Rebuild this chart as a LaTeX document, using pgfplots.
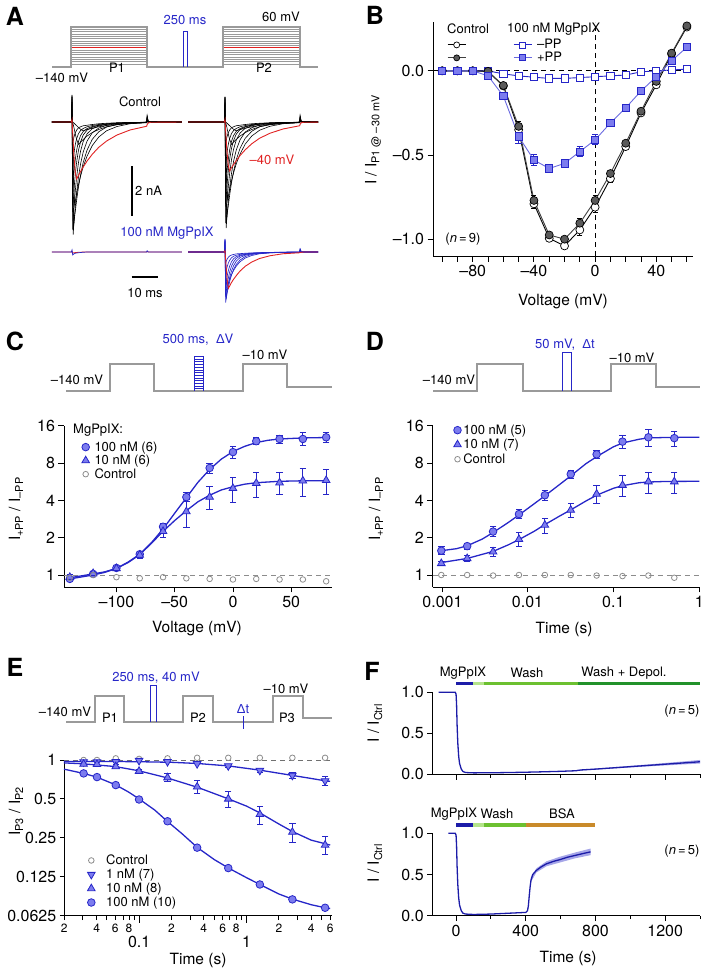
\documentclass[border=0pt]{standalone}
\usepackage{pgfplots}
\pgfplotsset{compat=1.18}
\usepackage{pgfplotstable}
\usepackage{fontspec}
\setmainfont{TeX Gyre Heros}
\newfontfamily\lib{Liberation Sans}

\definecolor{pblue}{HTML}{2626C8}
\definecolor{pfill}{HTML}{7C7CEE}
\definecolor{pgray}{HTML}{8C8C8C}
\definecolor{protogray}{HTML}{9A9A9A}
\definecolor{tred}{HTML}{E02222}
\definecolor{fnavy}{HTML}{1C1CA8}
\definecolor{fband}{HTML}{A6A6E8}
\definecolor{lgreen}{HTML}{B4E48A}
\definecolor{mgreen}{HTML}{6CC030}
\definecolor{dgreen}{HTML}{22922A}
\definecolor{bsa}{HTML}{C98A2A}
\definecolor{ppline}{HTML}{6A6AE0}
\definecolor{cfill}{HTML}{5A5A5A}

\newcommand{\fAnn}{\fontsize{13}{14}\selectfont}
\newcommand{\fTick}{\fontsize{16}{17}\selectfont}
\newcommand{\fLab}{\fontsize{15.5}{17}\selectfont}
\newcommand{\fPan}{\fontsize{25}{26}\selectfont\bfseries}
\newcommand{\fSm}{\fontsize{12}{12}\selectfont}

\pgfplotsset{
 hid/.style={scale only axis, hide axis, anchor=north west},
 pan/.style={scale only axis, anchor=north west, axis x line*=bottom, axis y line*=left,
   axis line style={line width=0.9pt, -}, tick style={line width=0.9pt, black},
   tick align=outside, major tick length=5.5pt, minor tick length=3.5pt,
   tick label style={font=\fTick}, /pgf/number format/assume math mode=true, clip=false,
   legend cell align=left},
 logx/.style={x coord trafo/.code={\pgfmathparse{ln(##1)/2.302585}}, x coord inv trafo/.code={\pgfmathparse{exp(##1*2.302585)}}},
 logy/.style={y coord trafo/.code={\pgfmathparse{ln(##1)/0.693147}}, y coord inv trafo/.code={\pgfmathparse{exp(##1*0.693147)}}},
 dmark/.style={mark=*, mark size=3.8pt, mark options={fill=pfill, draw=pblue, line width=0.8pt, solid}},
 tmark/.style={mark=triangle*, mark size=4.4pt, mark options={fill=pfill, draw=pblue, line width=0.8pt, solid}},
 vmark/.style={mark=triangle*, mark size=4.4pt, mark options={fill=pfill, draw=pblue, line width=0.8pt, solid, rotate=180}},
 cmark/.style={mark=o, mark size=2.8pt, mark options={draw=pgray, line width=0.8pt, solid}},
 ebar/.style={error bars/y dir=both, error bars/y explicit, error bars/error bar style={line width=1pt, pblue}, error bars/error mark options={rotate=90, mark size=3.2pt, line width=1pt, pblue}},
 kbar/.style={error bars/y dir=both, error bars/y explicit, error bars/error bar style={line width=0.8pt, black}, error bars/error mark options={rotate=90, mark size=2.5pt, line width=0.8pt, black}},
 eb/.style={pblue, line width=1pt, mark=-, mark size=3.2pt, mark options={solid, line width=1pt}, forget plot},
 fitl/.style={pblue, line width=1.3pt, forget plot},
}

% Panel A traces (t in ms, current in nA)
\pgfplotstableread{
t a b c d e f g h i j r rr c2 d2 e2 f2 g2 bf be bd bg bh bi bj bred bl rl
-6.5 0 0 0 0 0 0 0 0 0 0 0 0 0 0 0 0 0 0 0 0 0 0 0 0 0 0 0
0 0 0 0 0 0 0 0 0 0 0 0 0 0 0 0 0 0 0 0 0 0 0 0 0 0 0 0
7.45 0 0 0 0 0 0 0 0 0 0 0 0 0 0 0 0 0 0 0 0 0 0 0 0 0 0 0
7.7 0.15 0.3 0.5 0.8 1.05 1.0 1.08 1.0 0.9 0.8 0.1 0.1 0.5 0.75 1.0 0.95 1.0 0.47 0.44 0.28 0.52 0.5 0.45 0.4 0.05 0.08 0.03
7.95 0 0 -0.5 -1.2 -2.5 -4.3 -3.6 -2.8 -1.8 -0.9 -0.4 -0.34 -0.47 -1.13 -2.35 -4.04 -3.38 -2.02 -1.05 -0.42 -1.8 -1.4 -0.9 -0.45 -0.3 -0.12 -0.05
8.15 -0.02 -0.1 -1.5 -3.0 -4.5 -3.93 -3.22 -2.46 -1.55 -0.76 -0.8 -0.69 -1.41 -2.82 -4.24 -3.69 -3.03 -1.85 -1.89 -1.05 -1.61 -1.23 -0.78 -0.38 -0.6 -0.1 -0.04
8.4 -0.04 -0.2 -2.6 -4.1 -4.09 -3.51 -2.82 -2.09 -1.30 -0.62 -1.3 -1.12 -2.44 -3.85 -3.85 -3.30 -2.65 -1.65 -1.72 -1.44 -1.41 -1.05 -0.65 -0.31 -0.95 -0.08 -0.03
8.7 -0.07 -0.35 -3.3 -3.78 -3.69 -3.08 -2.40 -1.74 -1.06 -0.51 -1.7 -1.46 -3.10 -3.55 -3.47 -2.90 -2.26 -1.45 -1.55 -1.32 -1.2 -0.87 -0.53 -0.26 -1.25 -0.06 -0.03
9.0 -0.1 -0.5 -3.14 -3.54 -3.35 -2.71 -2.05 -1.47 -0.88 -0.42 -2.05 -1.76 -2.95 -3.33 -3.15 -2.55 -1.93 -1.27 -1.41 -1.24 -1.03 -0.74 -0.44 -0.21 -1.45 -0.05 -0.02
9.5 -0.15 -0.7 -2.86 -3.11 -2.80 -2.18 -1.59 -1.11 -0.66 -0.32 -2.28 -1.96 -2.69 -2.92 -2.63 -2.05 -1.49 -1.02 -1.18 -1.09 -0.8 -0.56 -0.33 -0.16 -1.36 -0.04 -0.02
10.2 -0.22 -0.9 -2.50 -2.59 -2.19 -1.61 -1.12 -0.77 -0.46 -0.23 -2.13 -1.83 -2.35 -2.43 -2.06 -1.51 -1.05 -0.76 -0.92 -0.91 -0.56 -0.39 -0.23 -0.12 -1.22 -0.03 -0.01
11 -0.29 -0.80 -2.16 -2.11 -1.67 -1.16 -0.79 -0.54 -0.34 -0.19 -1.98 -1.70 -2.03 -1.98 -1.57 -1.09 -0.74 -0.55 -0.70 -0.74 -0.4 -0.27 -0.17 -0.1 -1.09 -0.02 -0.01
12 -0.35 -0.70 -1.79 -1.62 -1.20 -0.78 -0.52 -0.38 -0.26 -0.15 -1.8 -1.55 -1.68 -1.52 -1.13 -0.73 -0.49 -0.37 -0.50 -0.57 -0.26 -0.19 -0.13 -0.075 -0.95 -0.01 0
13.5 -0.30 -0.56 -1.36 -1.12 -0.76 -0.47 -0.32 -0.26 -0.19 -0.13 -1.56 -1.34 -1.28 -1.05 -0.71 -0.44 -0.30 -0.22 -0.32 -0.39 -0.16 -0.13 -0.095 -0.065 -0.76 0 0
15.5 -0.25 -0.42 -0.94 -0.69 -0.43 -0.27 -0.21 -0.18 -0.14 -0.10 -1.29 -1.11 -0.88 -0.65 -0.40 -0.25 -0.20 -0.13 -0.18 -0.24 -0.1 -0.09 -0.07 -0.05 -0.57 0 0
18 -0.19 -0.30 -0.60 -0.39 -0.24 -0.16 -0.13 -0.13 -0.10 -0.07 -1.01 -0.87 -0.56 -0.37 -0.23 -0.15 -0.12 -0.075 -0.10 -0.14 -0.065 -0.065 -0.05 -0.035 -0.40 0 0
21 -0.14 -0.19 -0.35 -0.20 -0.13 -0.09 -0.09 -0.09 -0.07 -0.05 -0.76 -0.65 -0.33 -0.19 -0.12 -0.08 -0.08 -0.04 -0.055 -0.07 -0.045 -0.045 -0.035 -0.025 -0.26 0 0
25 -0.095 -0.11 -0.18 -0.10 -0.07 -0.05 -0.05 -0.05 -0.04 -0.03 -0.52 -0.45 -0.17 -0.09 -0.07 -0.05 -0.05 -0.02 -0.03 -0.035 -0.025 -0.025 -0.02 -0.015 -0.15 0 0
30 -0.058 -0.05 -0.07 -0.04 -0.04 -0.03 -0.03 -0.03 -0.02 -0.015 -0.32 -0.28 -0.07 -0.04 -0.04 -0.03 -0.03 -0.015 -0.017 -0.014 -0.015 -0.015 -0.01 -0.008 -0.07 0 0
36.4 -0.03 -0.02 -0.02 -0.02 -0.02 -0.01 -0.01 -0.01 -0.01 -0.01 -0.17 -0.15 -0.02 -0.02 -0.02 -0.01 -0.01 -0.005 -0.008 -0.007 -0.005 -0.005 -0.005 -0.005 -0.03 0 0
36.6 0.02 0.05 0.08 0.1 0.12 0.15 0.18 0.2 0.22 0.25 -0.1 -0.09 0.08 0.1 0.12 0.15 0.18 0.07 0.05 0.035 0.09 0.1 0.11 0.12 -0.02 0.05 0.02
37 -0.005 0 0 0 0 0 0.02 0.02 0.02 0.03 -0.04 -0.03 0 0 0 0 0.02 0 0 0 0.01 0.01 0.01 0.015 -0.01 0 0
38 0 0 0 0 0 0 0 0 0 0 -0.01 -0.01 0 0 0 0 0 0 0 0 0 0 0 0 0 0 0
50 0 0 0 0 0 0 0 0 0 0 0 0 0 0 0 0 0 0 0 0 0 0 0 0 0 0 0
}\Atab

% Panel B
\pgfplotstableread{
x co coe cf cfe mp pp ppe
-100 0 0 0 0 0 0 0
-90 0 0 0 0 0 0 0
-80 0 0 0 0 0 0 0
-70 -0.005 0 -0.003 0 0 -0.03 0.01
-60 -0.09 0.01 -0.087 0.01 -0.018 -0.15 0.015
-50 -0.35 0.03 -0.33 0.03 -0.03 -0.39 0.04
-40 -0.79 0.03 -0.77 0.03 -0.038 -0.53 0.035
-30 -0.995 0.015 -0.975 0.015 -0.045 -0.58 0.02
-20 -1.04 0.015 -1.0 0.015 -0.045 -0.55 0.02
-10 -0.945 0.03 -0.905 0.03 -0.04 -0.48 0.03
0 -0.81 0.03 -0.77 0.03 -0.035 -0.41 0.03
10 -0.64 0.02 -0.61 0.02 -0.03 -0.31 0.02
20 -0.45 0.015 -0.43 0.015 -0.025 -0.22 0.015
30 -0.25 0.01 -0.24 0.01 -0.006 -0.12 0.01
40 -0.083 0.01 -0.063 0.01 0 -0.035 0.01
50 0.1 0.01 0.105 0.01 0.005 0.06 0.01
60 0.26 0.01 0.267 0.01 0.01 0.14 0.01
}\Btab

% Panel C
\pgfplotstableread{
x h he l le c
-140 0.93 0.04 0.96 0.04 0.95
-120 1.02 0.03 1.03 0.04 1.0
-100 1.14 0.04 1.13 0.05 0.96
-80 1.47 0.08 1.45 0.08 0.94
-60 2.45 0.15 2.25 0.25 0.96
-40 4.25 0.35 3.25 0.85 0.94
-20 7.3 0.7 4.25 0.9 0.93
0 9.8 1.05 5.0 1.15 0.92
20 12.0 0.8 5.5 1.25 0.93
40 12.5 0.9 5.55 1.1 0.92
60 12.5 1.5 5.75 1.45 0.92
80 12.9 1.1 5.8 1.3 0.89
}\Ctab

% Panel D
\pgfplotstableread{
x h l c
0.001 1.57 1.24 1.0
0.002 1.71 1.36 1.0
0.004 2.24 1.54 0.99
0.008 3.1 1.94 1.0
0.016 4.4 2.53 1.0
0.032 6.5 3.34 1.0
0.064 9.4 4.5 0.99
0.128 11.9 5.3 0.98
0.256 12.9 5.66 0.99
0.512 12.7 5.66 0.95
}\Dtab

% Panel E
\pgfplotstableread{
x h l o c
0.0305 0.788 0.93 0.965 1.0
0.0406 0.738 0.925 0.965 1.0
0.0607 0.64 0.89 0.97 1.03
0.1 0.495 0.82 0.99 1.02
0.184 0.336 0.73 0.97 1.03
0.347 0.21 0.62 0.935 1.04
0.676 0.146 0.50 0.9 1.04
1.33 0.109 0.38 0.83 1.04
2.67 0.0836 0.277 0.76 1.04
5.38 0.072 0.22 0.69 1.04
}\Etab

\begin{document}
\begin{tikzpicture}[x=1pt,y=-1pt]
\path[use as bounding box] (0,0) rectangle (709,972);

% ---------- canvas for voltage protocols ----------
\begin{axis}[hid, clip=false, at={(0pt,0pt)}, width=709pt, height=972pt,
  xmin=0, xmax=709, ymin=0, ymax=972, y dir=reverse]
% A
\pgfplotsinvokeforeach{29.3,31.6,33.9,36.2,38.5,40.8,43.1,45.4,50,52.3,54.6,56.9,59.2,61.5,63.8}{
  \addplot[protogray, line width=0.55pt] coordinates {(71,#1) (147,#1)};
  \addplot[protogray, line width=0.55pt] coordinates {(223,#1) (300,#1)};
}
\addplot[tred, line width=0.9pt] coordinates {(71,47.7) (147,47.7)};
\addplot[tred, line width=0.9pt] coordinates {(223,47.7) (300,47.7)};
\addplot[protogray, line width=1.1pt] coordinates {(52,67) (71,67) (71,27) (147,27) (147,67) (223,67) (223,27) (300,27) (300,67) (318,67)};
\addplot[pblue, line width=1pt] coordinates {(183,67) (183,31) (187,31) (187,67)};
% C
\addplot[protogray, line width=1.2pt] coordinates {(66,391) (110,391) (110,364) (154,364) (154,391) (243,391) (243,364) (287,364) (287,387) (332,387)};
\pgfplotsinvokeforeach{359,361.7,364.4,367.1,369.8,372.5,375.2,377.9,380.6,383.3,386,388.7}{
  \addplot[pblue, line width=0.6pt] coordinates {(194,#1) (203,#1)};
}
\addplot[pblue, line width=0.9pt] coordinates {(194,391) (194,356) (203,356) (203,391)};
% D
\addplot[protogray, line width=1.2pt] coordinates {(433,391) (477,391) (477,364) (523,364) (523,391) (611,391) (611,364) (656,364) (656,387) (700,387)};
\addplot[pblue, line width=1pt] coordinates {(562,391) (562,352) (571,352) (571,391)};
% E
\addplot[protogray, line width=1.2pt] coordinates {(66,722) (95,722) (95,696) (124,696) (124,722) (183,722) (183,696) (213,696) (213,722) (273,722) (273,696) (303,696) (303,718) (332,718)};
\addplot[pblue, line width=1pt] coordinates {(150.7,722) (150.7,685) (156.7,685) (156.7,722)};
\addplot[pblue, line width=1pt] coordinates {(243,716) (243,729)};
\end{axis}

% ---------- Panel A traces ----------
\begin{axis}[hid, at={(52pt,-92pt)}, width=130pt, height=150pt, xmin=0, xmax=50, ymin=-4.8, ymax=1.2]
\pgfplotsinvokeforeach{a,b,c,d,e,f,g,h,i,j}{\addplot[black, line width=0.6pt] table[x=t,y=#1]{\Atab};}
\addplot[tred, line width=0.9pt] table[x=t,y=r]{\Atab};
\addplot[black, line width=1.8pt] coordinates {(30.65,-1.76) (30.65,-3.76)};
\end{axis}
\begin{axis}[hid, at={(188pt,-92pt)}, width=130pt, height=150pt, xmin=-6.53, xmax=43.47, ymin=-4.8, ymax=1.2]
\pgfplotsinvokeforeach{a,b,c2,d2,e2,f2,g2,h,i,j}{\addplot[black, line width=0.6pt] table[x=t,y=#1]{\Atab};}
\addplot[tred, line width=0.9pt] table[x=t,y=rr]{\Atab};
\end{axis}
\begin{axis}[hid, at={(52pt,-227pt)}, width=130pt, height=100pt, xmin=0, xmax=50, ymin=-3, ymax=1]
\addplot[tred, line width=0.8pt] table[x=t,y=rl]{\Atab};
\addplot[pblue, line width=0.7pt] table[x=t,y=bl]{\Atab};
\addplot[black, line width=1.8pt] coordinates {(30.65,-0.99) (40.65,-0.99)};
\end{axis}
\begin{axis}[hid, at={(188pt,-227pt)}, width=130pt, height=100pt, xmin=-6.53, xmax=43.47, ymin=-3, ymax=1]
\pgfplotsinvokeforeach{bf,be,bd,bg,bh,bi,bj}{\addplot[pblue, line width=0.65pt] table[x=t,y=#1]{\Atab};}
\addplot[tred, line width=0.9pt] table[x=t,y=bred]{\Atab};
\end{axis}

% ---------- Panel B ----------
\begin{axis}[pan, at={(433pt,-22pt)}, width=260pt, height=234pt,
  xmin=-106, xmax=64, ymin=-1.1, ymax=0.29,
  xtick={-100,-90,...,60}, xticklabels={,,--80,,,,--40,,,,0,,,,40,,},
  ytick={-1,-0.5,0}, yticklabels={--1.0,--0.5,0.0},
  legend columns=2,
  legend style={draw=none, fill=none, font=\fAnn, at={(axis description cs:0.054,0.935)}, anchor=north west,
     inner sep=0pt, row sep=-2pt, /tikz/every even column/.append style={column sep=40pt},
     /tikz/every odd column/.append style={column sep=3pt}},
  legend image code/.code={\draw[mark repeat=2,mark phase=2,#1,mark size=3pt] plot coordinates {(0pt,0pt) (9pt,0pt) (18pt,0pt)};},
]
\addplot[black, dash pattern=on 5pt off 4pt, line width=0.8pt, forget plot] coordinates {(-106,0) (64,0)};
\addplot[black, dash pattern=on 5pt off 4pt, line width=0.8pt, forget plot] coordinates {(0,-1.1) (0,0.29)};
\addplot[black, line width=0.9pt, mark=*, mark size=4pt, mark options={fill=white, draw=black, line width=0.7pt}, kbar] table[x=x,y=co,y error=coe]{\Btab};
\addlegendentry{}
\addplot[pblue, line width=0.9pt, mark=square*, mark size=3.6pt, mark options={fill=white, draw=pblue, line width=0.8pt}] table[x=x,y=mp]{\Btab};
\addlegendentry{--PP}
\addplot[black!75, line width=0.9pt, mark=*, mark size=4pt, mark options={fill=cfill, draw=black, line width=0.7pt}, kbar] table[x=x,y=cf,y error=cfe]{\Btab};
\addlegendentry{}
\addplot[ppline, line width=0.9pt, mark=square*, mark size=3.6pt, mark options={fill=pfill, draw=pblue, line width=0.8pt}, ebar] table[x=x,y=pp,y error=ppe]{\Btab};
\addlegendentry{+PP}
\end{axis}

% ---------- Panel C ----------
\begin{axis}[pan, at={(64pt,-425.7pt)}, width=268pt, height=161.3pt,
  xmin=-145, xmax=85, ymode=log, log basis y=2, ymin=0.8, ymax=16,
  xtick={-100,-50,0,50}, xticklabels={--100,--50,0,50},
  ytick={1,2,4,8,16}, yticklabels={1,2,4,8,16}, yminorticks=false,
  legend style={draw=none, fill=none, font=\fAnn, at={(axis description cs:0.066,0.915)}, anchor=north west, inner sep=0pt, row sep=-1.5pt,
     /tikz/every odd column/.append style={column sep=3pt}},
]
\addplot[pgray, dash pattern=on 5pt off 4pt, line width=0.9pt, forget plot] coordinates {(-145,1) (85,1)};
\addplot[fitl] coordinates {(-140,0.93) (-120,1.0) (-110,1.05) (-100,1.13) (-90,1.27) (-80,1.47) (-70,1.82) (-60,2.35) (-50,3.15) (-40,4.2) (-30,5.6) (-20,7.1) (-10,8.6) (0,9.9) (10,10.9) (20,11.7) (30,12.2) (40,12.5) (60,12.75) (80,12.85)};
\addplot[fitl] coordinates {(-140,0.95) (-120,1.02) (-110,1.06) (-100,1.13) (-90,1.26) (-80,1.46) (-70,1.8) (-60,2.25) (-50,2.75) (-40,3.3) (-30,3.9) (-20,4.4) (-10,4.85) (0,5.15) (10,5.4) (20,5.55) (40,5.7) (60,5.75) (80,5.77)};
\addplot[only marks, dmark, ebar] table[x=x,y=h,y error=he]{\Ctab};
\addlegendentry{100 nM (6)}
\addplot[only marks, tmark, ebar] table[x=x,y=l,y error=le]{\Ctab};
\addlegendentry{10 nM (6)}
\addplot[only marks, cmark] table[x=x,y=c]{\Ctab};
\addlegendentry{Control}
\end{axis}

% ---------- Panel D ----------
\begin{axis}[pan, logx, at={(432.7pt,-425.7pt)}, width=266.6pt, height=161.3pt,
  xmin=0.0008, xmax=1, ymode=log, log basis y=2, ymin=0.8, ymax=16,
  xtick={0.001,0.01,0.1,1}, xticklabels={0.001,0.01,0.1,1},
  ytick={1,2,4,8,16}, yticklabels={1,2,4,8,16}, yminorticks=false,
  legend style={draw=none, fill=none, font=\fAnn, at={(axis description cs:0.078,1.02)}, anchor=north west, inner sep=0pt, row sep=-0.5pt},
]
\addplot[pgray, dash pattern=on 5pt off 4pt, line width=0.9pt, forget plot] coordinates {(0.0008,1) (1,1)};
\addplot[fitl] coordinates {(0.001,1.57) (0.0015,1.63) (0.002,1.72) (0.003,1.95) (0.004,2.2) (0.006,2.65) (0.008,3.05) (0.012,3.75) (0.016,4.35) (0.024,5.4) (0.032,6.3) (0.048,7.9) (0.064,9.0) (0.1,10.8) (0.128,11.6) (0.2,12.45) (0.256,12.75) (0.4,12.85) (0.6,12.9) (1,12.9)};
\addplot[fitl] coordinates {(0.001,1.26) (0.002,1.36) (0.004,1.55) (0.006,1.75) (0.008,1.93) (0.012,2.25) (0.016,2.55) (0.024,3.0) (0.032,3.35) (0.048,3.95) (0.064,4.4) (0.1,5.0) (0.128,5.25) (0.2,5.55) (0.256,5.62) (0.4,5.68) (1,5.7)};
% error bars, 100 nM
\addplot[eb] coordinates {(0.001,1.45) (0.001,1.69)};
\addplot[eb] coordinates {(0.002,1.61) (0.002,1.81)};
\addplot[eb] coordinates {(0.004,2.04) (0.004,2.44)};
\addplot[eb] coordinates {(0.008,2.85) (0.008,3.35)};
\addplot[eb] coordinates {(0.016,4.0) (0.016,4.8)};
\addplot[eb] coordinates {(0.032,6.0) (0.032,7.0)};
\addplot[eb] coordinates {(0.064,8.7) (0.064,10.1)};
\addplot[eb] coordinates {(0.128,10.4) (0.128,13.4)};
\addplot[eb] coordinates {(0.256,10.9) (0.256,14.9)};
\addplot[eb] coordinates {(0.512,10.95) (0.512,14.45)};
% error bars, 10 nM
\addplot[eb] coordinates {(0.001,1.19) (0.001,1.29)};
\addplot[eb] coordinates {(0.002,1.29) (0.002,1.43)};
\addplot[eb] coordinates {(0.004,1.42) (0.004,1.66)};
\addplot[eb] coordinates {(0.008,1.69) (0.008,2.19)};
\addplot[eb] coordinates {(0.016,2.18) (0.016,2.88)};
\addplot[eb] coordinates {(0.032,2.89) (0.032,3.79)};
\addplot[eb] coordinates {(0.064,3.75) (0.064,5.25)};
\addplot[eb] coordinates {(0.128,4.3) (0.128,6.3)};
\addplot[eb] coordinates {(0.256,4.56) (0.256,6.76)};
\addplot[eb] coordinates {(0.512,4.56) (0.512,6.76)};
\addplot[only marks, dmark] table[x=x,y=h]{\Dtab};
\addlegendentry{100 nM (5)}
\addplot[only marks, tmark] table[x=x,y=l]{\Dtab};
\addlegendentry{10 nM (7)}
\addplot[only marks, cmark] table[x=x,y=c]{\Dtab};
\addlegendentry{Control}
\end{axis}

% ---------- Panel E ----------
\begin{axis}[pan, logx, logy, at={(64.3pt,-760pt)}, width=267.4pt, height=155.7pt,
  xmin=0.02, xmax=6.2, ymin=0.0625, ymax=1,
  major tick length=4.5pt,
  xtick={0.02,0.03,0.04,0.05,0.06,0.07,0.08,0.09,0.2,0.3,0.4,0.5,0.6,0.7,0.8,0.9,2,3,4,5,6},
  xticklabels={2,,4,,6,,8,,2,,4,,6,,8,,2,,4,,6},
  xticklabel style={font=\fSm},
  extra x ticks={0.1,1}, extra x tick labels={0.1,1},
  extra x tick style={major tick length=7pt, xticklabel style={font=\fTick, yshift=-10pt}},
  ytick={0.0625,0.125,0.25,0.5,1}, yticklabels={0.0625,0.125,0.25,0.5,1},
  legend style={draw=none, fill=none, font=\fAnn, at={(axis description cs:0.086,0.405)}, anchor=north west, inner sep=0pt, row sep=-1pt, /tikz/every odd column/.append style={column sep=9pt}},
]
\addplot[pgray!80!black, dash pattern=on 5pt off 4pt, line width=0.9pt, forget plot] coordinates {(0.02,1) (6.2,1)};
\addplot[fitl] coordinates {(0.02,0.85) (0.03,0.79) (0.04,0.74) (0.06,0.645) (0.08,0.565) (0.1,0.5) (0.14,0.41) (0.18,0.34) (0.25,0.27) (0.35,0.21) (0.5,0.17) (0.68,0.146) (1.0,0.123) (1.33,0.109) (2.0,0.092) (2.67,0.084) (4.0,0.076) (5.4,0.072) (6.0,0.071)};
\addplot[fitl] coordinates {(0.02,0.95) (0.03,0.935) (0.06,0.89) (0.1,0.825) (0.18,0.73) (0.35,0.615) (0.68,0.50) (1.0,0.44) (1.33,0.39) (2.0,0.32) (2.67,0.28) (4.0,0.24) (5.4,0.225) (6.0,0.22)};
\addplot[fitl] coordinates {(0.02,0.975) (0.05,0.975) (0.1,0.97) (0.2,0.96) (0.35,0.94) (0.68,0.9) (1.33,0.835) (2.67,0.76) (4,0.72) (5.4,0.69) (6,0.685)};
% error bars, 10 nM
\addplot[eb] coordinates {(0.0607,0.86) (0.0607,0.92)};
\addplot[eb] coordinates {(0.1,0.79) (0.1,0.85)};
\addplot[eb] coordinates {(0.184,0.68) (0.184,0.78)};
\addplot[eb] coordinates {(0.347,0.55) (0.347,0.69)};
\addplot[eb] coordinates {(0.676,0.43) (0.676,0.57)};
\addplot[eb] coordinates {(1.33,0.32) (1.33,0.44)};
\addplot[eb] coordinates {(2.67,0.232) (2.67,0.322)};
\addplot[eb] coordinates {(5.38,0.185) (5.38,0.255)};
% error bars, 1 nM
\addplot[eb] coordinates {(0.676,0.88) (0.676,0.92)};
\addplot[eb] coordinates {(1.33,0.80) (1.33,0.86)};
\addplot[eb] coordinates {(2.67,0.72) (2.67,0.80)};
\addplot[eb] coordinates {(5.38,0.64) (5.38,0.74)};
\addplot[only marks, cmark] table[x=x,y=c]{\Etab};
\addlegendentry{Control}
\addplot[only marks, vmark] table[x=x,y=o]{\Etab};
\addlegendentry{1 nM (7)}
\addplot[only marks, tmark] table[x=x,y=l]{\Etab};
\addlegendentry{10 nM (8)}
\addplot[only marks, dmark] table[x=x,y=h]{\Etab};
\addlegendentry{100 nM (10)}
\end{axis}

% ---------- Panel F top ----------
\begin{axis}[pan, at={(432.7pt,-692.3pt)}, width=267.3pt, height=81.7pt,
  xmin=-134, xmax=1400, ymin=0, ymax=1,
  xtick={0,400,800,1200}, minor xtick={200,600,1000,1400}, xticklabels={,,,},
  ytick={0,0.5,1}, yticklabels={0.0,0.5,1.0}]
\addplot[fill=fband, draw=none] coordinates {(690,0.042) (800,0.066) (900,0.083) (1000,0.1) (1100,0.117) (1200,0.135) (1300,0.153) (1400,0.172) (1400,0.128) (1300,0.117) (1200,0.105) (1100,0.093) (1000,0.08) (900,0.067) (800,0.054) (690,0.038)} -- cycle;
\addplot[fnavy, line width=1.3pt] coordinates {(-100,1.0) (-5,1.0) (0,0.98) (3,0.85) (6,0.6) (10,0.38) (15,0.22) (20,0.13) (30,0.06) (40,0.03) (55,0.018) (100,0.014) (200,0.015) (300,0.018) (400,0.022) (500,0.027) (600,0.033) (690,0.04) (700,0.045) (720,0.05) (800,0.06) (900,0.075) (1000,0.09) (1100,0.105) (1200,0.12) (1300,0.135) (1400,0.15)};
\addplot[fnavy, line width=3.5pt] coordinates {(0,1.11) (100,1.11)};
\addplot[lgreen, line width=3.5pt] coordinates {(100,1.11) (160,1.11)};
\addplot[mgreen, line width=3.5pt] coordinates {(160,1.11) (700,1.11)};
\addplot[dgreen, line width=3.5pt] coordinates {(700,1.11) (1400,1.11)};
\end{axis}

% ---------- Panel F bottom ----------
\begin{axis}[pan, at={(432.7pt,-833.3pt)}, width=267.3pt, height=82.4pt,
  xmin=-134, xmax=1400, ymin=0, ymax=1,
  xtick={0,400,800,1200}, minor xtick={200,600,1000,1400}, xticklabels={0,400,800,1200},
  ytick={0,0.5,1}, yticklabels={0.0,0.5,1.0}]
\addplot[fill=fband, draw=none] coordinates {(425,0.40) (430,0.47) (461,0.575) (519,0.66) (595,0.715) (680,0.765) (772,0.815) (772,0.735) (680,0.695) (595,0.645) (519,0.60) (461,0.525) (430,0.41)} -- cycle;
\addplot[fnavy, line width=1.3pt] coordinates {(-44,1.0) (-5,1.0) (0,0.98) (3,0.85) (6,0.6) (10,0.38) (15,0.22) (20,0.13) (30,0.06) (40,0.03) (55,0.02) (100,0.015) (200,0.02) (300,0.03) (400,0.04) (410,0.06) (415,0.12) (420,0.24) (425,0.35) (430,0.43) (440,0.5) (461,0.55) (490,0.595) (519,0.63) (560,0.66) (595,0.68) (640,0.71) (680,0.73) (730,0.755) (772,0.775)};
\addplot[fnavy, line width=3.5pt] coordinates {(0,1.10) (100,1.10)};
\addplot[lgreen, line width=3.5pt] coordinates {(100,1.10) (160,1.10)};
\addplot[mgreen, line width=3.5pt] coordinates {(160,1.10) (400,1.10)};
\addplot[bsa, line width=3.5pt] coordinates {(400,1.10) (800,1.10)};
\end{axis}

% ---------- Text ----------
\node[font=\fPan] at (15,16) {A};
\node[font=\fPan] at (375,15) {B};
\node[font=\fPan] at (15,341) {C};
\node[font=\fPan] at (375,341) {D};
\node[font=\fPan] at (15,667) {E};
\node[font=\fPan] at (372,671) {F};

\begin{scope}[every node/.style={font=\fAnn, inner sep=0pt}]
% A
\node[text=pblue] at (185,20) {250 ms};
\node at (281,17) {60 mV};
\node at (62,77.5) {--140 mV};
\node at (117,68) {P1};
\node at (264,68) {P2};
\node at (140,102) {Control};
\node[text=tred] at (272,160) {--40 mV};
\node[anchor=west] at (135,191) {2 nA};
\node[text=pblue] at (167,233) {100 nM MgPpIX};
\node at (145,293) {10 ms};
% B
\node[anchor=west] at (447,29) {Control};
\node[anchor=west] at (507,29) {100 nM MgPpIX};
\node at (463,239) {(\textit{n}\,=\,9)};
% C
\node at (77,380) {--140 mV};
\node[text=pblue] at (198,340) {500 ms,\ \ {\lib Δ}V};
\node at (265,355) {--10 mV};
\node[anchor=west] at (73,430) {MgPpIX:};
% D
\node at (449,380) {--140 mV};
\node[text=pblue] at (565,345) {50 mV,\ \ {\lib Δ}t};
\node at (632,358) {--10 mV};
% E
\node[text=pblue] at (156,678) {250 ms, 40 mV};
\node at (65,712) {--140 mV};
\node at (110,718) {P1};
\node at (198,718) {P2};
\node[text=pblue] at (243,709) {{\lib Δ}t};
\node at (286,689) {--10 mV};
\node at (287,718) {P3};
% F
\node at (463,673) {MgPpIX};
\node at (527,673) {Wash};
\node at (624,673) {Wash + Depol.};
\node at (682,711) {(\textit{n}\,=\,5)};
\node at (454,814) {MgPpIX};
\node at (497,814) {Wash};
\node at (562,814) {BSA};
\node at (682,851) {(\textit{n}\,=\,5)};
\end{scope}

\begin{scope}[every node/.style={font=\fLab, inner sep=0pt}]
\node[rotate=90] at (373,140) {I / I\textsubscript{P1 @ --30 mV}};
\node at (563,302) {Voltage (mV)};
\node[rotate=90] at (16,509) {I\textsubscript{+PP} / I\textsubscript{--PP}};
\node at (197,629) {Voltage (mV)};
\node[rotate=90] at (376,509) {I\textsubscript{+PP} / I\textsubscript{--PP}};
\node at (564,629) {Time (s)};
\node[rotate=90] at (16,811) {I\textsubscript{P3} / I\textsubscript{P2}};
\node at (198,960) {Time (s)};
\node[rotate=90] at (375,723) {I / I\textsubscript{Ctrl}};
\node[rotate=90] at (375,863) {I / I\textsubscript{Ctrl}};
\node at (568,958) {Time (s)};
\end{scope}
\end{tikzpicture}
\end{document}
